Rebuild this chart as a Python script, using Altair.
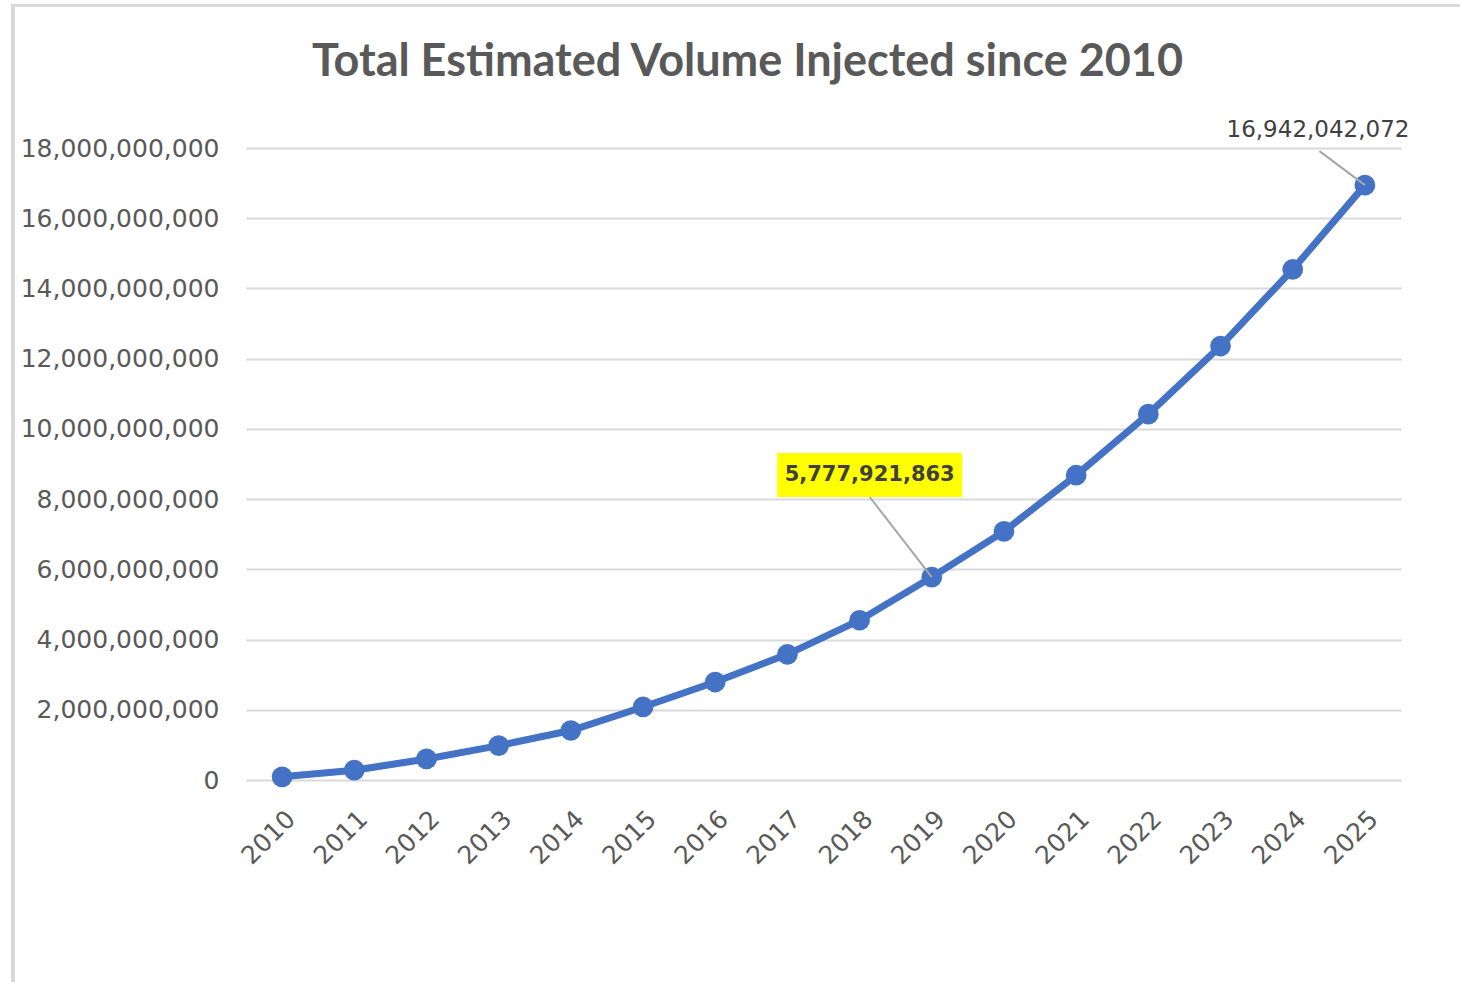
import altair as alt
import pandas as pd

years = list(range(2010, 2026))
volumes = [
    90_000_000, 280_000_000, 600_000_000, 980_000_000, 1_410_000_000,
    2_080_000_000, 2_790_000_000, 3_580_000_000, 4_550_000_000,
    5_777_921_863, 7_080_000_000, 8_680_000_000, 10_420_000_000,
    12_360_000_000, 14_540_000_000, 16_942_042_072,
]
y_ticks = list(range(0, 18_000_000_001, 2_000_000_000))

# annotations: point (year, value), label centre and leader-line start in data units
ann_year = [2019, 2025]
ann_text = ["5,777,921,863", "16,942,042,072"]
ann_label_year = [2018.14, 2024.35]
ann_label_val = [8_690_000_000, 18_510_000_000]
ann_lead_year = [2018.14, 2024.37]
ann_lead_val = [8_060_000_000, 17_910_000_000]

df = pd.DataFrame({"year": years, "volume": volumes})
vol_map = dict(zip(years, volumes))
ann = pd.DataFrame({
    "year": ann_year,
    "volume": [vol_map[y] for y in ann_year],
    "text": ann_text,
    "lx": ann_label_year,
    "ly": ann_label_val,
    "sx": ann_lead_year,
    "sy": ann_lead_val,
})

W, H = 1155, 632
PAD_L, PAD_T = 246, 148

xscale = alt.Scale(domain=[2009.5, 2025.5], nice=False, zero=False)
yscale = alt.Scale(domain=[0, 18_000_000_000], nice=False)

x_axis = alt.Axis(
    values=years, format="d", labelAngle=-45, grid=False, ticks=False,
    domain=False, labelFlush=False, labelOverlap=False, labelPadding=26,
    labelFont="DejaVu Sans", labelFontSize=25, labelColor="#595959", title=None,
    labelLimit=0,
)
y_axis = alt.Axis(
    values=y_ticks, format=",d", grid=True, gridColor="#d9d9d9", gridWidth=2,
    ticks=False, domain=False, labelPadding=27, labelFont="DejaVu Sans",
    labelFontSize=25, labelColor="#595959", title=None, labelLimit=0,
)

base = alt.Chart(df)
line = base.mark_line(color="#4472C4", strokeWidth=7).encode(
    x=alt.X("year:Q", scale=xscale, axis=x_axis),
    y=alt.Y("volume:Q", scale=yscale, axis=y_axis),
)
pts = base.mark_circle(color="#4472C4", opacity=1, size=430).encode(
    x=alt.X("year:Q", scale=xscale),
    y=alt.Y("volume:Q", scale=yscale),
)

a = alt.Chart(ann)
leaders = a.mark_rule(color="#a6a6a6", strokeWidth=2).encode(
    x=alt.X("sx:Q", scale=xscale), y=alt.Y("sy:Q", scale=yscale),
    x2="year:Q", y2="volume:Q",
)
box = alt.Chart(ann.iloc[[0]]).mark_rect(color="#ffff00", width=185, height=44).encode(
    x=alt.X("lx:Q", scale=xscale), y=alt.Y("ly:Q", scale=yscale),
)
lab_bold = alt.Chart(ann.iloc[[0]]).mark_text(
    font="DejaVu Sans", fontSize=21, fontWeight="bold", color="#404040",
    align="center", baseline="middle",
).encode(x=alt.X("lx:Q", scale=xscale), y=alt.Y("ly:Q", scale=yscale), text="text:N")
lab_plain = alt.Chart(ann.iloc[[1]]).mark_text(
    font="DejaVu Sans", fontSize=23, color="#404040",
    align="center", baseline="middle",
).encode(x=alt.X("lx:Q", scale=xscale), y=alt.Y("ly:Q", scale=yscale), text="text:N")

one = alt.Data(values=[{"a": 1}])
border_left = alt.Chart(one).mark_rule(color="#d9d9d9", strokeWidth=4).encode(
    x=alt.value(13 - PAD_L), y=alt.value(4 - PAD_T), y2=alt.value(982 - PAD_T)
)
border_top = alt.Chart(one).mark_rule(color="#d9d9d9", strokeWidth=3).encode(
    x=alt.value(11 - PAD_L), x2=alt.value(1460 - PAD_L), y=alt.value(5.5 - PAD_T)
)

chart = alt.layer(
    border_left, border_top, line, pts, box, leaders, lab_bold, lab_plain
).properties(
    width=W, height=H,
    title=alt.TitleParams(
        "Total Estimated Volume Injected since 2010", font="Lato", fontSize=45,
        fontWeight="bold", color="#595959", anchor="middle", frame="group",
        baseline="alphabetic", offset=0, dx=-76, dy=119,
    ),
    autosize=alt.AutoSizeParams(type="none"),
    padding={"left": PAD_L, "top": PAD_T, "right": 1460 - PAD_L - W, "bottom": 982 - PAD_T - H},
).configure(background="white").configure_view(strokeWidth=0)

chart.save("out.html", embed_options={"renderer": "svg", "actions": False})
